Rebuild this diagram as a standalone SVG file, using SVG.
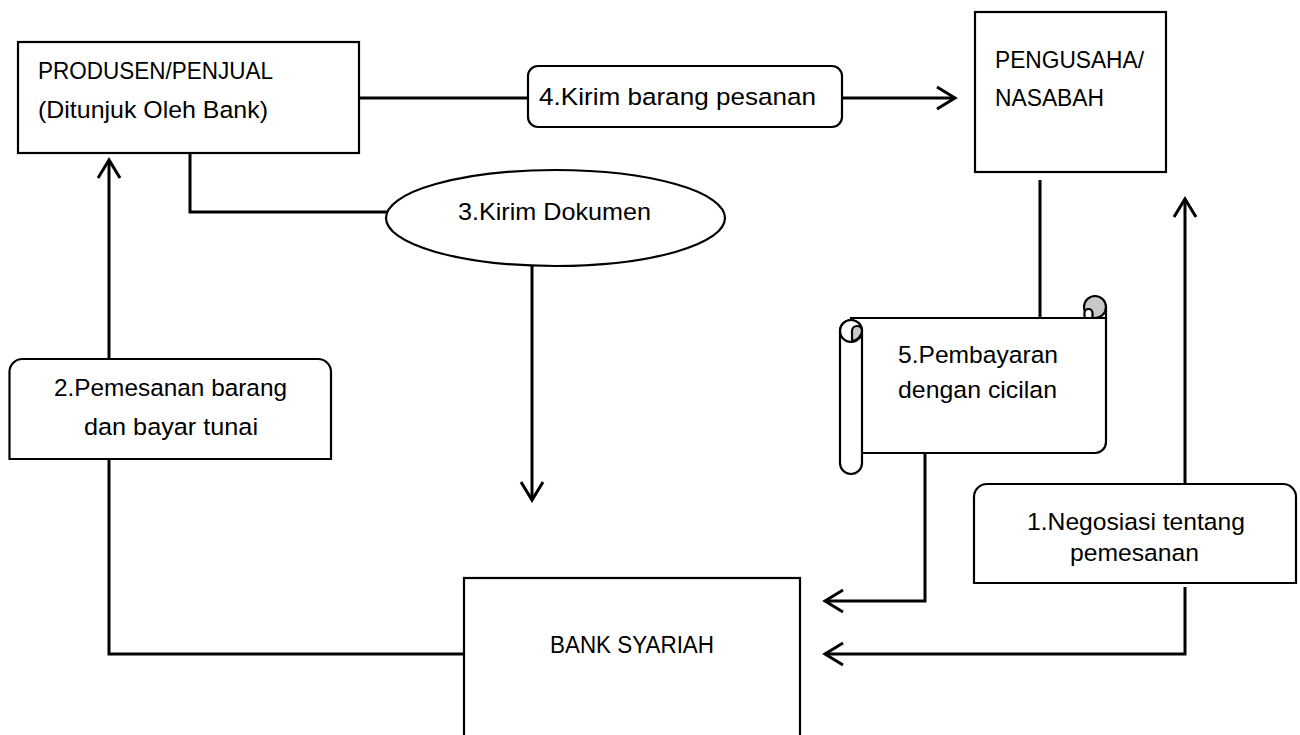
<svg xmlns="http://www.w3.org/2000/svg" width="1300" height="735" viewBox="0 0 1300 735">
  <style>
    .box { fill: #ffffff; stroke: #000000; stroke-width: 2.2; }
    .lbl { font-family: "Liberation Sans", Arial, sans-serif; font-size: 24.5px; fill: #000000; }
    .wire { fill: none; stroke: #000000; stroke-width: 3; stroke-linejoin: miter; }
    .arrow { marker-end: url(#chev); }
    .curl { fill: #c8c8c8; stroke: #000000; stroke-width: 2.2; }
  </style>
  <defs>
    <marker id="chev" markerUnits="userSpaceOnUse" markerWidth="40" markerHeight="40" viewBox="-30 -20 40 40" refX="0" refY="0" orient="auto" overflow="visible">
      <path d="M -18,-11 L 0,0 L -18,11" fill="none" stroke="#000000" stroke-width="3"/>
    </marker>
  </defs>
  <rect width="1300" height="735" fill="#ffffff"/>

  <!-- connectors -->
  <g id="connectors">
    <path class="wire" d="M 359,98 L 528,98"/>
    <path class="wire arrow" d="M 842,98 L 955,98"/>
    <path class="wire" d="M 190,153 L 190,212 L 387,212"/>
    <path class="wire arrow" d="M 532,266 L 532,500"/>
    <path class="wire arrow" d="M 109,359 L 109,160"/>
    <path class="wire" d="M 109,459 L 109,654 L 464,654"/>
    <path class="wire" d="M 1040,180 L 1040,318"/>
    <path class="wire arrow" d="M 925,453 L 925,601 L 825,601"/>
    <path class="wire arrow" d="M 1185,484 L 1185,199"/>
    <path class="wire arrow" d="M 1185,587 L 1185,654 L 825,654"/>
  </g>

  <!-- seller -->
  <g id="node-produsen">
    <rect class="box" x="18" y="42" width="341" height="111"/>
    <text class="lbl" x="38" y="79" textLength="235" lengthAdjust="spacingAndGlyphs">PRODUSEN/PENJUAL</text>
    <text class="lbl" x="38" y="118" textLength="230" lengthAdjust="spacingAndGlyphs">(Ditunjuk Oleh Bank)</text>
  </g>

  <!-- customer -->
  <g id="node-pengusaha">
    <rect class="box" x="975" y="12" width="191" height="160"/>
    <text class="lbl" x="995" y="68" textLength="149" lengthAdjust="spacingAndGlyphs">PENGUSAHA/</text>
    <text class="lbl" x="995" y="106" textLength="109" lengthAdjust="spacingAndGlyphs">NASABAH</text>
  </g>

  <!-- bank -->
  <g id="node-bank">
    <rect class="box" x="464" y="578" width="336" height="175"/>
    <text class="lbl" x="550" y="653" textLength="164" lengthAdjust="spacingAndGlyphs">BANK SYARIAH</text>
  </g>

  <!-- step 4 -->
  <g id="node-kirim-barang">
    <rect class="box" x="528" y="66" width="314" height="61" rx="10" ry="10"/>
    <text class="lbl" x="539" y="105" textLength="277" lengthAdjust="spacingAndGlyphs">4.Kirim barang pesanan</text>
  </g>

  <!-- step 3 -->
  <g id="node-kirim-dokumen">
    <ellipse class="box" cx="555.5" cy="218" rx="169.5" ry="48"/>
    <text class="lbl" x="458" y="220" textLength="193" lengthAdjust="spacingAndGlyphs">3.Kirim Dokumen</text>
  </g>

  <!-- step 2 -->
  <g id="node-pemesanan">
    <path class="box" d="M 9.5,459 L 9.5,372 A 13 13 0 0 1 22.5,359 L 318,359 A 13 13 0 0 1 331,372 L 331,459 Z"/>
    <text class="lbl" x="54" y="396" textLength="233" lengthAdjust="spacingAndGlyphs">2.Pemesanan barang</text>
    <text class="lbl" x="84" y="435" textLength="174" lengthAdjust="spacingAndGlyphs">dan bayar tunai</text>
  </g>

  <!-- step 1 -->
  <g id="node-negosiasi">
    <path class="box" d="M 974,583 L 974,497 A 13 13 0 0 1 987,484 L 1283,484 A 13 13 0 0 1 1296,497 L 1296,583 Z"/>
    <text class="lbl" x="1027" y="530" textLength="218" lengthAdjust="spacingAndGlyphs">1.Negosiasi tentang</text>
    <text class="lbl" x="1070" y="561" textLength="129" lengthAdjust="spacingAndGlyphs">pemesanan</text>
  </g>

  <!-- step 5: scroll shape -->
  <g id="node-pembayaran">
    <!-- scroll body -->
    <path class="box" d="M 851,318 L 1106,318 L 1106,442 A 11 11 0 0 1 1095,453 L 862,453 Z"/>
    <!-- top-right curl -->
    <circle class="curl" cx="1095" cy="307" r="11"/>
    <path class="box" d="M 1084.5,318 L 1084.5,313 A 4 4 0 0 1 1092.5,313 L 1092.5,318 Z"/>
    <path d="M 1080,318 L 1106,318 L 1106,307" fill="none" stroke="#000000" stroke-width="2.2"/>
    <!-- left roll -->
    <rect class="box" x="840" y="320" width="22" height="154" rx="11" ry="11"/>
    <circle class="box" cx="851" cy="331" r="11"/>
    <path class="curl" d="M 852,341 L 852,331 A 5 5 0 0 1 862,331 A 11 11 0 0 1 852,341 Z"/>
    <text class="lbl" x="898" y="363" textLength="160" lengthAdjust="spacingAndGlyphs">5.Pembayaran</text>
    <text class="lbl" x="898" y="398" textLength="159" lengthAdjust="spacingAndGlyphs">dengan cicilan</text>
  </g>
</svg>
